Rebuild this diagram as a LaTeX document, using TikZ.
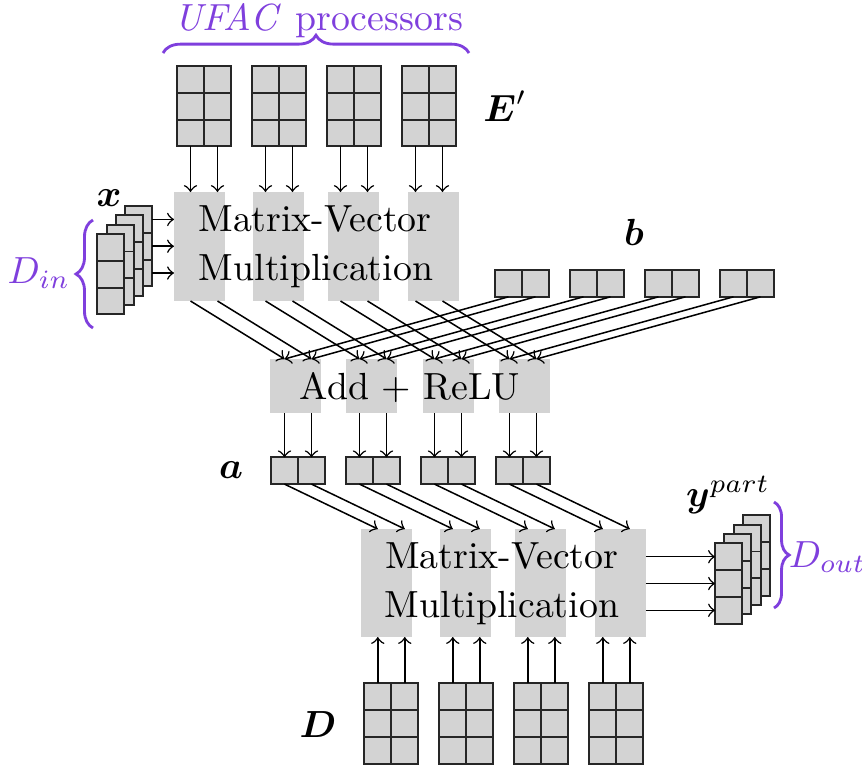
\documentclass[tikz,border=0pt]{standalone}
\usepackage{amsmath}
\usetikzlibrary{decorations.pathreplacing,fit}
\definecolor{cellgray}{RGB}{211,211,211}
\definecolor{boxgray}{RGB}{211,211,211}
\definecolor{ufac}{RGB}{127,63,221}

\begin{document}
\begin{tikzpicture}[x=0.2646pt, y=-0.2646pt,
  cell/.style={draw=black!85, fill=cellgray, line width=0.5pt, inner sep=0pt,
    outer sep=0pt, minimum width=7.14pt, minimum height=7.09pt},
  opbox/.style={fill=boxgray, draw=none, inner sep=0pt, outer sep=0pt},
  conn/.style={->, line width=0.4pt},
  lbl/.style={inner sep=0pt},
  brc/.style={decorate, decoration={brace, amplitude=#1}, draw=ufac, line width=0.75pt},
  brc/.default=4.5pt,
]
\useasboundingbox (0,0) rectangle (862,768);

% ---------- grey operation blocks ----------
\node[opbox, fit={(174,192) (225,301)}] (MA1) {};
\node[opbox, fit={(253,192) (304,301)}] (MA2) {};
\node[opbox, fit={(328,192) (379,301)}] (MA3) {};
\node[opbox, fit={(408,192) (459,301)}] (MA4) {};

\node[opbox, fit={(270,359) (321,413)}] (AD1) {};
\node[opbox, fit={(346,359) (397,413)}] (AD2) {};
\node[opbox, fit={(423,359) (474,413)}] (AD3) {};
\node[opbox, fit={(499,359) (550,413)}] (AD4) {};

\node[opbox, fit={(361,529) (412,637)}] (MB1) {};
\node[opbox, fit={(440,529) (491,637)}] (MB2) {};
\node[opbox, fit={(515,529) (566,637)}] (MB3) {};
\node[opbox, fit={(595,529) (646,637)}] (MB4) {};

% ---------- E' tiles (3x2) ----------
\foreach \i/\L in {1/177,2/252,3/327,4/402}
  \foreach \r in {1,2,3}
    \foreach \c in {1,2}
      \node[cell] (E\i-\r-\c) at ({\L+27*\c-13.5},{66+26.8*\r-13.4}) {};

% ---------- D tiles (3x2) ----------
\foreach \i/\L in {1/364.3,2/439.3,3/514.3,4/589.3}
  \foreach \r in {1,2,3}
    \foreach \c in {1,2}
      \node[cell] (D\i-\r-\c) at ({\L+27*\c-13.5},{683.3+26.8*\r-13.4}) {};

% ---------- b and a slices (1x2) ----------
\foreach \i/\L in {1/495,2/570,3/645,4/720}
  \foreach \c in {1,2}
    \node[cell] (B\i-\c) at ({\L+27*\c-13.5},283.4) {};
\foreach \i/\L in {1/271,2/346,3/421,4/496}
  \foreach \c in {1,2}
    \node[cell] (A\i-\c) at ({\L+27*\c-13.5},470.7) {};

% ---------- stacked x inputs and y outputs ----------
\foreach \k in {4,3,2,1}
  \foreach \r in {1,2,3}
    \node[cell] (X\k-\r) at ({97.3+9.33*(\k-1)+13.5},{234-9.33*(\k-1)+26.8*\r-13.4}) {};
\foreach \k in {4,3,2,1}
  \foreach \r in {1,2,3}
    \node[cell] (Y\k-\r) at ({715+9.33*(\k-1)+13.5},{543.3-9.33*(\k-1)+26.8*\r-13.4}) {};

% ---------- connectors ----------
\foreach \r in {1,2,3}
  \draw[conn] (X4-\r.east) -- (X4-\r.east -| MA1.west);
\foreach \r in {1,2,3}
  \draw[conn] (Y1-\r.west -| MB4.east) -- (Y1-\r.west);

\foreach \i in {1,2,3,4}
  \foreach \c in {1,2} {
    \draw[conn] (E\i-3-\c.south) -- (E\i-3-\c.south |- MA\i.north);
    \draw[conn] (E\i-3-\c.south |- MA\i.south) -- (A\i-\c.north |- AD\i.north);
    \draw[conn] (B\i-\c.south) -- (A\i-\c.north |- AD\i.north);
    \draw[conn] (A\i-\c.north |- AD\i.south) -- (A\i-\c.north);
    \draw[conn] (A\i-\c.south) -- (D\i-1-\c.north |- MB\i.north);
    \draw[conn] (D\i-1-\c.north) -- (D\i-1-\c.north |- MB\i.south);
  }

% ---------- block captions ----------
\node[anchor=base] (tA1) at (315,231) {Matrix-Vector};
\node[anchor=base] (tA2) at (316,280) {Multiplication};
\node[anchor=base] (tAdd) at (410,399) {Add + ReLU};
\node[anchor=base] (tB1) at (501.7,568) {Matrix-Vector};
\node[anchor=base] (tB2) at (502,617) {Multiplication};

% ---------- symbols ----------
\node[lbl] (lx) at (109,198) {$\boldsymbol{x}$};
\node[lbl] (lE) at (505,106) {$\boldsymbol{E}'$};
\node[lbl] (lb) at (634,232) {$\boldsymbol{b}$};
\node[lbl] (la) at (231,470) {$\boldsymbol{a}$};
\node[lbl] (lD) at (318,725) {$\boldsymbol{D}$};
\node[lbl] (ly) at (728,495) {$\boldsymbol{y}^{part}$};

% ---------- braces ----------
\draw[brc=4.7pt] (163,53) -- (469,53);
\node[text=ufac, anchor=base] (lU) at (318.5,30) {$\mathit{UFAC}$ processors};
\draw[brc] (93,328) -- (93,220);
\node[text=ufac, anchor=base east, inner sep=0pt] (lDin) at (71,283) {$D_{in}$};
\draw[brc=4pt] (774,502) -- (774,608);
\node[text=ufac, anchor=base west, inner sep=0pt] (lDout) at (788,567) {$D_{out}$};
\end{tikzpicture}
\end{document}
